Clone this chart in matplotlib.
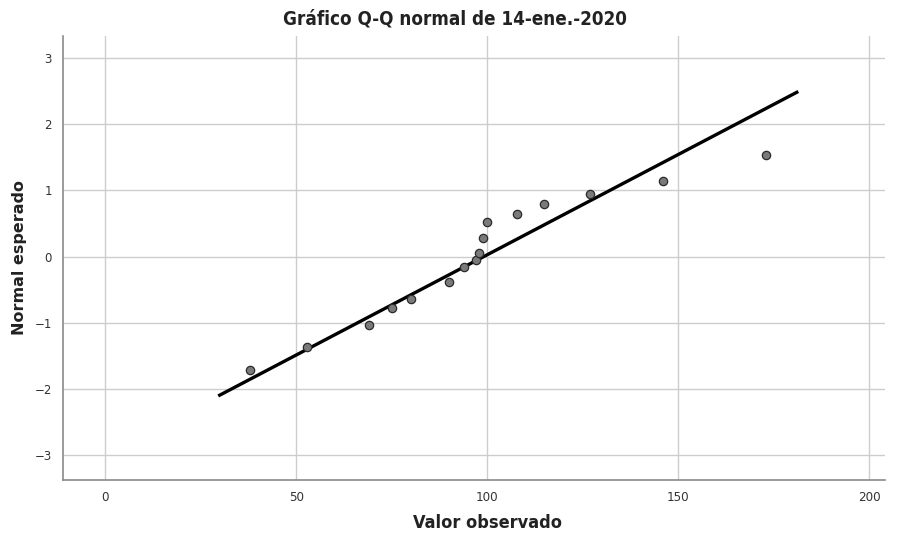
import matplotlib
matplotlib.use("Agg")
import matplotlib.pyplot as plt
from matplotlib import font_manager

observed = [38.0, 52.9, 69.1, 75.0, 80.0, 89.9, 94.0, 97.1, 97.9, 98.9, 100.0,
            107.9, 114.9, 127.0, 145.9, 172.9]
expected = [-1.71, -1.36, -1.03, -0.78, -0.64, -0.39, -0.16, -0.05, 0.06, 0.28,
            0.52, 0.65, 0.80, 0.95, 1.14, 1.53]

# reference line (normal fit)
line_x = [30.0, 181.0]
line_y = [-2.09, 2.48]

x_ticks = [0, 50, 100, 150, 200]
y_ticks = [-3, -2, -1, 0, 1, 2, 3]

title = "Gráfico Q-Q normal de 14-ene.-2020"
xlabel = "Valor observado"
ylabel = "Normal esperado"

names = {f.name for f in font_manager.fontManager.ttflist}
if "Liberation Sans Narrow" in names:
    narrow = dict(family="Liberation Sans Narrow")
else:
    narrow = dict(family="DejaVu Sans", stretch="condensed")

fig = plt.figure(figsize=(9, 5.35), dpi=100)
ax = fig.add_axes([0.070, 0.1028, 0.913, 0.830])

ax.grid(True, color="#cdcdcd", linewidth=1.0)
ax.set_axisbelow(True)
ax.plot(line_x, line_y, color="black", linewidth=2.4, zorder=3)
ax.scatter(observed, expected, s=36, facecolor="#7a7a7a", edgecolor="#2b2b2b",
           linewidth=0.9, zorder=4)

ax.set_xlim(-11, 204)
ax.set_ylim(-3.37, 3.33)
ax.set_xticks(x_ticks)
ax.set_yticks(y_ticks)
ax.tick_params(length=0, pad=8, labelsize=8.5, colors="#333333")
for lab in ax.get_xticklabels():
    lab.set(**narrow)
    lab.set_fontsize(9.5)

for s in ["top", "right"]:
    ax.spines[s].set_visible(False)
for s in ["left", "bottom"]:
    ax.spines[s].set_color("#8a8a8a")
    ax.spines[s].set_linewidth(1.2)

fig.text(0.506, 0.965, title, ha="center", va="center", fontsize=13.5,
         fontweight="bold", color="#222222", **narrow)
fig.text(0.542, 0.022, xlabel, ha="center", va="center", fontsize=13,
         fontweight="bold", color="#222222", **narrow)
fig.text(0.022, 0.518, ylabel, ha="center", va="center", rotation=90,
         fontsize=11.5, fontweight="bold", color="#222222", family="DejaVu Sans")

fig.savefig("out.png", dpi=100)
